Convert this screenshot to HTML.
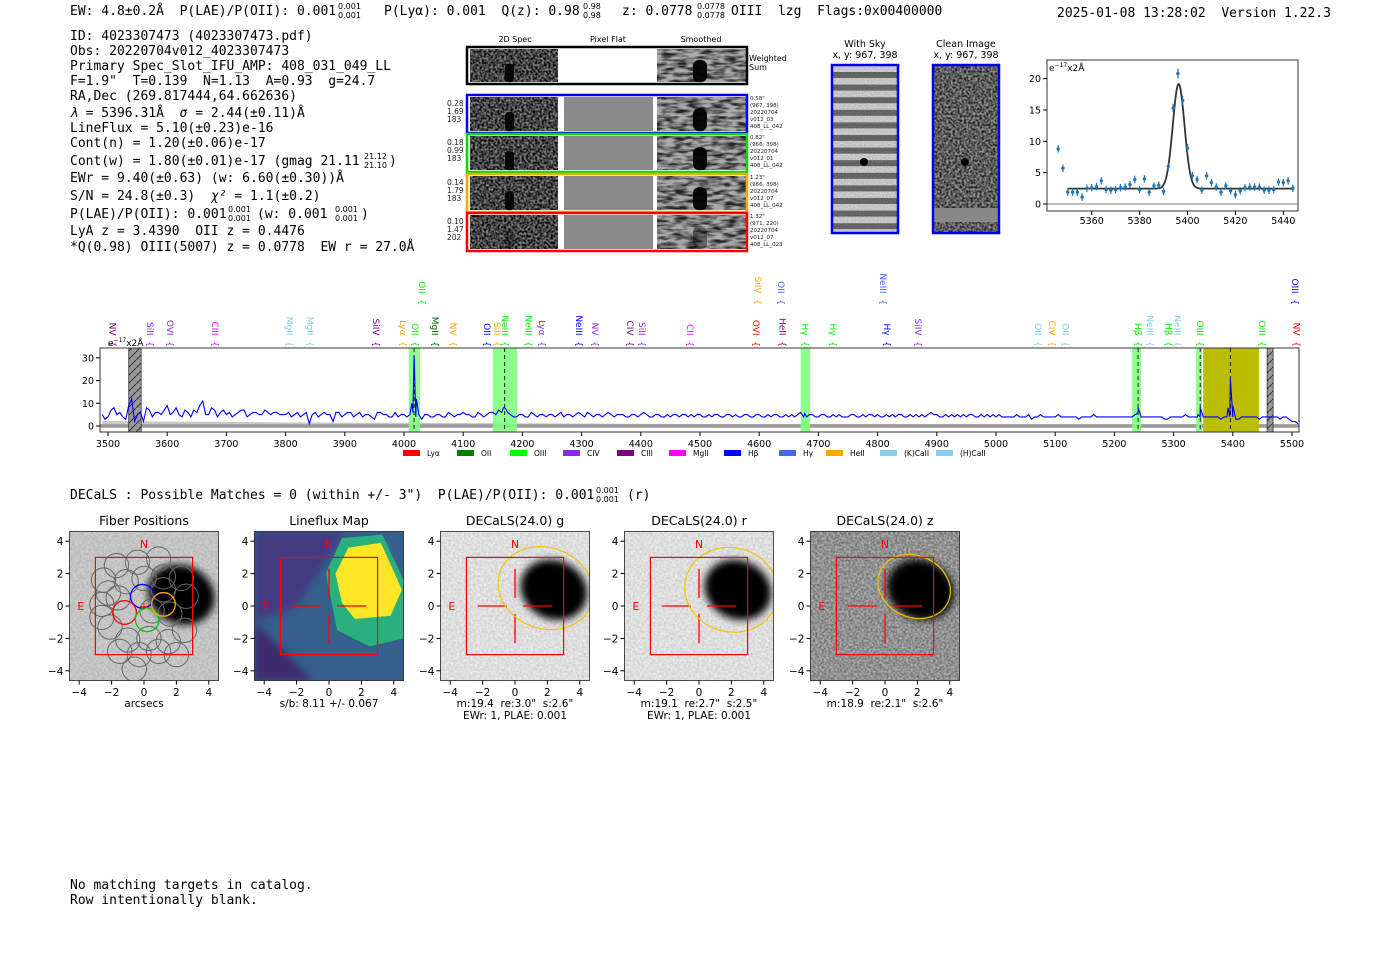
<!DOCTYPE html>
<html><head><meta charset="utf-8"><style>
html,body{margin:0;padding:0;background:#fff;}
svg{display:block;}
svg text{white-space:pre;}
.mono{font-family:"DejaVu Sans Mono","Liberation Mono",monospace;font-size:13px;fill:#000;}
.sm{font-family:"DejaVu Sans","Liberation Sans",sans-serif;}
</style></head><body>
<svg id="root" width="1400" height="953" viewBox="0 0 1400 953" xmlns="http://www.w3.org/2000/svg" xml:space="preserve">
<defs>
<filter id="noise" x="0" y="0" width="100%" height="100%"><feTurbulence type="fractalNoise" baseFrequency="0.45" numOctaves="1" seed="3"/><feColorMatrix type="matrix" values="0 0 0 0 0  0 0 0 0 0  0 0 0 0 0  0 0 0 -2.2 1.6"/></filter>
<filter id="noiseSoft" x="0" y="0" width="100%" height="100%"><feTurbulence type="fractalNoise" baseFrequency="0.08 0.3" numOctaves="2" seed="7"/><feColorMatrix type="matrix" values="0 0 0 0 0  0 0 0 0 0  0 0 0 0 0  0 0 0 -2.5 1.6"/></filter>
<filter id="noiseFine" x="0" y="0" width="100%" height="100%"><feTurbulence type="fractalNoise" baseFrequency="0.9" numOctaves="1" seed="5"/><feColorMatrix type="matrix" values="0 0 0 0 0  0 0 0 0 0  0 0 0 0 0  0 0 0 -1 0.8"/></filter>
<filter id="blur3"><feGaussianBlur stdDeviation="4"/></filter>
<pattern id="hatch" width="8" height="8" patternUnits="userSpaceOnUse"><rect width="8" height="8" fill="#999"/><path d="M0,8 L8,0" stroke="#333" stroke-width="1"/></pattern>
</defs>

<g>
<text class="mono" x="70" y="15">EW: 4.8±0.2Å  P(LAE)/P(OII): 0.001</text>
<text class="sm" x="338" y="9" font-size="8">0.001</text>
<text class="sm" x="338" y="18" font-size="8">0.001</text>
<text class="mono" x="384" y="15">P(Lyα): 0.001  Q(z): 0.98</text>
<text class="sm" x="583" y="9" font-size="8">0.98</text>
<text class="sm" x="583" y="18" font-size="8">0.98</text>
<text class="mono" x="622" y="15">z: 0.0778</text>
<text class="sm" x="697" y="9" font-size="8">0.0778</text>
<text class="sm" x="697" y="18" font-size="8">0.0778</text>
<text class="mono" x="731" y="15">OIII  lzg  Flags:0x00400000</text>
<text class="mono" x="1057" y="17">2025-01-08 13:28:02  Version 1.22.3</text>
</g>

<g>
<text class="mono" x="70" y="40">ID: 4023307473 (4023307473.pdf)</text>
<text class="mono" x="70" y="55">Obs: 20220704v012_4023307473</text>
<text class="mono" x="70" y="70">Primary Spec_Slot_IFU_AMP: 408_031_049_LL</text>
<text class="mono" x="70" y="85">F=1.9"  T=0.139  N=1.13  A=0.93  g=24.7</text>
<text class="mono" x="70" y="100">RA,Dec (269.817444,64.662636)</text>
<text class="mono" x="70" y="117"><tspan font-style="italic">λ</tspan> = 5396.31Å  <tspan font-style="italic">σ</tspan> = 2.44(±0.11)Å</text>
<text class="mono" x="70" y="132">LineFlux = 5.10(±0.23)e-16</text>
<text class="mono" x="70" y="147">Cont(n) = 1.20(±0.06)e-17</text>
<text class="mono" x="70" y="165">Cont(w) = 1.80(±0.01)e-17 (gmag 21.11</text>
<text class="sm" x="364" y="159" font-size="8">21.12</text>
<text class="sm" x="364" y="168" font-size="8">21.10</text>
<text class="mono" x="389" y="165">)</text>
<text class="mono" x="70" y="182">EWr = 9.40(±0.63) (w: 6.60(±0.30))Å</text>
<text class="mono" x="70" y="200">S/N = 24.8(±0.3)  <tspan font-style="italic">χ²</tspan> = 1.1(±0.2)</text>
<text class="mono" x="70" y="218">P(LAE)/P(OII): 0.001</text>
<text class="sm" x="228" y="212" font-size="8">0.001</text>
<text class="sm" x="228" y="221" font-size="8">0.001</text>
<text class="mono" x="257" y="218">(w: 0.001</text>
<text class="sm" x="335" y="212" font-size="8">0.001</text>
<text class="sm" x="335" y="221" font-size="8">0.001</text>
<text class="mono" x="361" y="218">)</text>
<text class="mono" x="70" y="235">LyA z = 3.4390  OII z = 0.4476</text>
<text class="mono" x="70" y="251">*Q(0.98) OIII(5007) z = 0.0778  EW r = 27.0Å</text>
</g>

<g id="cutouts" class="sm">
<text x="515" y="42" font-size="8" text-anchor="middle">2D Spec</text>
<text x="608" y="42" font-size="8" text-anchor="middle">Pixel Flat</text>
<text x="701" y="42" font-size="8" text-anchor="middle">Smoothed</text>
<text x="749" y="61" font-size="8">Weighted</text>
<text x="749" y="70" font-size="8">Sum</text>
</g>

<g class="sm">
<text x="865" y="47" font-size="9.5" text-anchor="middle">With Sky</text>
<text x="865" y="58" font-size="9.5" text-anchor="middle">x, y: 967, 398</text>
<rect x="831" y="64" width="68" height="170" fill="#ddd"/>
<g id="skystripes"></g>
<rect x="831" y="64" width="68" height="170" fill="#000" filter="url(#noiseFine)" opacity="0.35"/>
<circle cx="864" cy="162" r="4" fill="#000"/>
<rect x="832" y="65" width="66" height="168" fill="none" stroke="#0000ee" stroke-width="2.5"/>
<text x="966" y="47" font-size="9.5" text-anchor="middle">Clean Image</text>
<text x="966" y="58" font-size="9.5" text-anchor="middle">x, y: 967, 398</text>
<rect x="932" y="64" width="68" height="170" fill="#999"/>
<rect x="932" y="64" width="68" height="170" fill="#000" filter="url(#noise)" opacity="0.8"/>
<rect x="932" y="208" width="68" height="14" fill="#888"/>
<circle cx="965" cy="162" r="4" fill="#000"/>
<rect x="933" y="65" width="66" height="168" fill="none" stroke="#0000ee" stroke-width="2.5"/>
</g>

<g id="zoomplot" class="sm">
<rect x="1047" y="60" width="251" height="151" fill="#fff" stroke="#333"/>
<text x="1049" y="71" font-size="9">e<tspan dy="-4" font-size="6">−17</tspan><tspan dy="4">x2Å</tspan></text>
</g>

<g id="mainspec" class="sm"></g>

<text class="mono" x="70" y="499">DECaLS : Possible Matches = 0 (within +/- 3")  P(LAE)/P(OII): 0.001</text>
<text class="sm" x="596" y="493" font-size="8">0.001</text>
<text class="sm" x="596" y="502" font-size="8">0.001</text>
<text class="mono" x="627" y="499">(r)</text>
<g id="panels" class="sm"></g>
<text class="mono" x="70" y="889">No matching targets in catalog.</text>
<text class="mono" x="70" y="904">Row intentionally blank.</text>
</svg>

<script>
// ---------------- data ----------------
const fitW = [5346,5348,5350,5352,5354,5356,5358,5360,5362,5364,5366,5368,5370,5372,5374,5376,5378,5380,5382,5384,5386,5388,5390,5392,5394,5396,5398,5400,5402,5404,5406,5408,5410,5412,5414,5416,5418,5420,5422,5424,5426,5428,5430,5432,5434,5436,5438,5440,5442,5444];
const fitF = [8.8,5.7,1.9,1.9,1.9,1.1,2.5,2.6,2.8,3.7,2.3,2.2,2.3,2.6,2.7,3.1,3.9,2.3,4.0,1.9,2.9,3.0,2.0,6.0,15.3,20.8,16.5,8.9,4.5,3.9,2.2,4.5,3.4,2.7,1.9,2.9,2.1,1.5,2.1,2.6,2.7,2.7,2.7,2.2,2.2,2.3,3.5,3.4,3.7,2.5];
const fitErr = [0.6,0.6,0.6,0.6,0.6,0.6,0.6,0.6,0.6,0.6,0.6,0.6,0.6,0.6,0.6,0.6,0.6,0.6,0.6,0.6,0.6,0.6,0.6,0.6,0.7,0.8,0.7,0.7,0.6,0.6,0.6,0.6,0.6,0.6,0.6,0.6,0.6,0.6,0.6,0.6,0.6,0.6,0.6,0.6,0.6,0.6,0.6,0.6,0.6,0.6];
const fitCont = 2.45, fitAmp = 16.7, fitMu = 5396.31, fitSigma = 2.44;
const zoomXTicks = [5360,5380,5400,5420,5440];
const zoomYTicks = [0,5,10,15,20];

const specStart = 3490, specStep = 10;
const specF = [5,4,8,6,3,12,5,2,7,6,5,
 9,6,5,7,4,6,11,5,7,6,
 5,4,6,7,5,6,5,6,6,5,
 5,4,6,5,1,6,5,5,2,6,
 5,6,5,4,5,3,6,5,4,4,
 5,5,4,3,5,4,5,4,5,5,
 6,5,4,5,5,6,7,8,5,4,
 5,4,5,5,4,5,5,4,5,5,
 5,6,4,5,5,5,5,5,4,5,
 5,5,4,5,4,4,5,5,4,4,
 5,4,4,5,4,5,5,4,5,4,
 5,4,4,5,4,4,4,6,4,5,
 4,5,4,4,4,4,5,4,4,5,
 5,4,4,4,5,4,4,4,4,6,
 5,4,4,4,4,4,5,4,4,4,
 4,4,4,4,4,4,3,4,4,4,
 4,4,4,4,3,4,4,4,4,4,
 4,4,4,4,6,4,4,4,4,3,
 4,4,5,4,4,4,4,4,3,4,
 4,3,4,4,4,4,4,4,3,4,
 2,1];
const wigF = [3,7,5,4,9,2,6,8,4,6,7,
 5,8,4,6,7,9,5,8,4,7,
 6,5,7,4,6,5,7,5,6,5,
 6,5,4,6,5,4,6,5,6,4,
 6,4,6,5,4,6,5,4,6,5,
 4,6,5,5,4,5,4,6,4,5,
 5,4,6,4,6,5,6,6,4,5,
 4,6,4,5,5,4,6,5,4,6,
 4,5,5,4,6,4,5,4,5,4,
 6,4,5,4,5,5,4,5,5,5,
 4,5,5,4,5,4,4,5,4,5,
 4,5,5,4,5,5,5,4,5,4,
 5,4,5,5,4,5,4,5,5,4,
 4,5,5,5,4,5,5,5,5,5,
 4,5,5,5,5,5,4,5,5,5,
 5,4,4,5,4,5,4,5,4,4,
 5,4,4,4,4,4,5,4,4,4,
 4,4,4,5,4,4,4,4,3,4,
 4,4,4,4,4,4,4,4,4,4,
 3,4,4,4,3,4,4,4,4,3,
 2];
const peakW = [4013,4017,4021,4168,4172,4677,5236,5240,5244,5341,5345,5349,5392,5396,5400];
const peakF = [10,31,12,8,7.5,5.5,5,8,5,5,8,5,8,21,9];
const errF = [2.2,2.0,1.8,1.6,1.5,1.4,1.3,1.2,1.1,1.0,0.9,0.8,0.8,0.8,0.7,0.7,0.7,0.7,0.7,0.7,0.7];
const specXTicks = [3500,3600,3700,3800,3900,4000,4100,4200,4300,4400,4500,4600,4700,4800,4900,5000,5100,5200,5300,5400,5500];
const specYTicks = [0,10,20,30];

const lineW = [3508,3571,3605,3681,3807,3841,3953,3998,4019,4052,4083,4140,4157,4171,4210,4233,4296,4323,4382,4402,4483,4595,4639,4677,4725,4816,4868,5071,5095,5117,5240,5260,5291,5307,5345,5449,5508];
const lineName = ["NV","SiII","OVI","CIII","MgII","MgII","SiIV","Lyα","OII","MgII","NV","OII","SiII","NeIII","NeIII","Lyα","NeIII","NV","CIV","SiII","CII","OVI","HeII","Hγ","Hγ","Hγ","SiIV","OII","CIV","OII","Hβ","NeIII","Hβ","NeIII","OIII","OIII","NV"];
const lineColor = ["#800080","#8a2be2","#8a2be2","#ff00ff","#87ceeb","#87ceeb","#800080","#ffa500","#00ee00","#006400","#ffa500","#0000ff","#ffa500","#00ee00","#00ee00","#8a2be2","#0000ff","#8a2be2","#800080","#8a2be2","#ff00ff","#ff0000","#800080","#00ee00","#00ee00","#0000ff","#8a2be2","#87ceeb","#ffa500","#87ceeb","#00ee00","#87ceeb","#00ee00","#87ceeb","#00ee00","#00ee00","#ff0000"];
const upW = [4030,4598,4637,4809,5505];
const upName = ["OII","SiIV","OII","NeIII","OIII"];
const upColor = ["#00ee00","#ffa500","#4169e1","#4169e1","#0000ff"];
const bandLo = [4008,4150,4670,5230,5338,5350];
const bandHi = [4027,4191,4686,5245,5348,5444];
const bandColor = ["#7fff7f","#7fff7f","#7fff7f","#7fff7f","#7fff7f","#bcbc00"];
const dashW = [4017,4170,5240,5345,5396];
const legendName = ["Lyα","OII","OIII","CIV","CIII","MgII","Hβ","Hγ","HeII","(K)CaII","(H)CaII"];
const legendColor = ["#ff0000","#008000","#00ff00","#8a2be2","#800080","#ff00ff","#0000ff","#4169e1","#ffa500","#87ceeb","#87ceeb"];

const panelTitle = ["Fiber Positions","Lineflux Map","DECaLS(24.0) g","DECaLS(24.0) r","DECaLS(24.0) z"];
const panelSub1 = ["arcsecs","s/b: 8.11 +/- 0.067","m:19.4  re:3.0\"  s:2.6\"","m:19.1  re:2.7\"  s:2.5\"","m:18.9  re:2.1\"  s:2.6\""];
const panelSub2 = ["","","EWr: 1, PLAE: 0.001","EWr: 1, PLAE: 0.001",""];
const panelTicks = [-4,-2,0,2,4];

// ---------------- helpers ----------------
const NS = "http://www.w3.org/2000/svg";
function mk(parent, tag, attrs, text){
  const e = document.createElementNS(NS, tag);
  for (const k in attrs) e.setAttribute(k, attrs[k]);
  if (text !== undefined) e.textContent = text;
  parent.appendChild(e);
  return e;
}

// ---------------- cutouts ----------------
const cut = document.getElementById('cutouts');
const rowsY = [95,134,174,213];
const rowsC = ["#0000ee","#00dd00","#ffa500","#ff0000"];
const rowNums = [["0.28","1.69","183"],["0.18","0.99","183"],["0.14","1.79","183"],["0.10","1.47","202"]];
const rowInfo = [["0.58\"","(967, 398)","20220704","v012_03","408_LL_042"],["0.82\"","(966, 398)","20220704","v012_01","408_LL_042"],["1.23\"","(966, 398)","20220704","v012_07","408_LL_042"],["1.32\"","(971, 220)","20220704","v012_07","408_LL_023"]];
function cutRow(y, h, color, flat, idx){
  let e;
  e = mk(cut,'rect',{x:470,y:y+2,width:88,height:h-4,fill:'#888'});
  
  
  e = mk(cut,'rect',{x:470,y:y+2,width:88,height:h-4,fill:'#000',filter:'url(#noise)'});
  
  
  e = mk(cut,'rect',{x:564,y:y+2,width:89,height:h-4,fill:flat?'#8a8a8a':'#fff'});
  
  
  e = mk(cut,'rect',{x:657,y:y+2,width:89,height:h-4,fill:'#aaa'});
  
  
  e = mk(cut,'rect',{x:657,y:y+2,width:89,height:h-4,fill:'#000',filter:'url(#noiseSoft)',opacity:0.8});
  
  
  e = mk(cut,'rect',{x:693,y:y+h*0.35,width:14,height:h*0.6,rx:6,fill:'#000',opacity:idx===3?0.4:0.95});
  
  
  e = mk(cut,'rect',{x:505,y:y+h*0.45,width:9,height:h*0.5,rx:3,fill:'#000',opacity:idx===3?0.3:0.9});
  
  
  e = mk(cut,'rect',{x:467,y:y,width:280,height:h,fill:'none',stroke:color,'stroke-width':2.5});
  
  
}
cutRow(47,37,'#000',false,-1);
for (let i=0;i<4;i++){
  cutRow(rowsY[i],38,rowsC[i],true,i);
  for (let j=0;j<3;j++){
    const t = mk(cut,'text',{x:447,y:rowsY[i]+11+j*8,'font-size':7.5,fill:'#222'},rowNums[i][j]);
    
    
  }
  for (let j=0;j<5;j++){
    const t = mk(cut,'text',{x:750,y:rowsY[i]+5+j*7,'font-size':5.5,fill:'#222'},rowInfo[i][j]);
    
    
  }
}

const ss = document.getElementById('skystripes');
for (let k=0;k<13;k++){
  const s = mk(ss,'rect',{x:831,y:72+k*12.6,width:68,height:6,fill:'#555',opacity:0.8});
  
  
}

// ---------------- zoom plot ----------------
const zp = document.getElementById('zoomplot');
const zx = w => 1091.7 + (w-5360)*2.395;
const zy = v => 204 - v*6.27;
zoomXTicks.forEach(t=>{
  let e = mk(zp,'line',{x1:zx(t),x2:zx(t),y1:211,y2:215,stroke:'#000'});
  
  
  e = mk(zp,'text',{x:zx(t),y:224,'font-size':9.5,'text-anchor':'middle'},String(t));
  
  
});
zoomYTicks.forEach(t=>{
  let e = mk(zp,'line',{x1:1043,x2:1047,y1:zy(t),y2:zy(t),stroke:'#000'});
  
  
  e = mk(zp,'text',{x:1041,y:zy(t)+3.5,'font-size':9.5,'text-anchor':'end'},String(t));
  
  
});
let zl = mk(zp,'line',{x1:1047,x2:1298,y1:zy(0),y2:zy(0),stroke:'#555','stroke-width':0.8});


let gp = [];
for (let w=5350; w<=5444; w+=0.25){
  const v = fitCont + fitAmp*Math.exp(-0.5*((w-fitMu)/fitSigma)**2);
  gp.push(zx(w).toFixed(1)+','+zy(v).toFixed(1));
}
zl = mk(zp,'polyline',{points:gp.join(' '),fill:'none',stroke:'#333','stroke-width':1.8});


fitW.forEach((w,i)=>{
  let e = mk(zp,'line',{x1:zx(w),x2:zx(w),y1:zy(fitF[i]-fitErr[i]),y2:zy(fitF[i]+fitErr[i]),stroke:'#1f77b4','stroke-width':1.2});
  
  
  e = mk(zp,'circle',{cx:zx(w),cy:zy(fitF[i]),r:1.7,fill:'#1f77b4'});
  
  
});

// ---------------- main spectrum ----------------
const ms = document.getElementById('mainspec');
const sx = w => 108 + (w-3500)*0.592;
const sy = v => 426 - v*2.27;
let e0 = mk(ms,'rect',{x:100,y:348,width:1199,height:84,fill:'#fff'});


let ep = [];
errF.forEach((v,i)=>{ep.push(sx(3490+i*100).toFixed(1)+','+sy(v).toFixed(1));});
for (let i=errF.length-1;i>=0;i--) ep.push(sx(3490+i*100).toFixed(1)+','+sy(-0.5).toFixed(1));
e0 = mk(ms,'polygon',{points:ep.join(' '),fill:'#c8c8c8'});


e0 = mk(ms,'rect',{x:100,y:sy(0.8),width:1199,height:3.6,fill:'#999'});


bandLo.forEach((lo,i)=>{
  const b = mk(ms,'rect',{x:sx(lo),y:348,width:sx(bandHi[i])-sx(lo),height:84,fill:bandColor[i],opacity:i===5?1:0.9});
  
  
});
[[3535,3556],[5458,5468]].forEach(m=>{
  const b = mk(ms,'rect',{x:sx(m[0]),y:348,width:sx(m[1])-sx(m[0]),height:84,fill:'url(#hatch)',stroke:'#333','stroke-width':0.8});
  
  
});
dashW.forEach(w=>{
  const d = mk(ms,'line',{x1:sx(w),x2:sx(w),y1:348,y2:432,stroke:'#222','stroke-dasharray':'4,3','stroke-width':1});
  
  
});
let pts = specF.map((v,i)=>[specStart+i*specStep, v]);
wigF.forEach((v,i)=>pts.push([specStart+5+i*specStep, v]));
peakW.forEach((w,i)=>pts.push([w,peakF[i]]));
pts.sort((a,b)=>a[0]-b[0]);
let pl = [];
for (let i=0;i<pts.length;i++){
  pl.push(sx(pts[i][0]).toFixed(1)+','+sy(pts[i][1]).toFixed(1));
}
e0 = mk(ms,'polyline',{points:pl.join(' '),fill:'none',stroke:'#0000ff','stroke-width':1.1});


e0 = mk(ms,'rect',{x:100,y:348,width:1199,height:84,fill:'none',stroke:'#333','stroke-width':1});


e0 = mk(ms,'text',{x:108,y:346,'font-size':9});


mk(e0,'tspan',{},'e');
mk(e0,'tspan',{dy:-4,'font-size':6},'−17');
mk(e0,'tspan',{dy:4},'x2Å');
specXTicks.forEach(t=>{
  let e = mk(ms,'line',{x1:sx(t),x2:sx(t),y1:432,y2:436,stroke:'#000'});
  
  
  e = mk(ms,'text',{x:sx(t),y:447,'font-size':9.5,'text-anchor':'middle'},String(t));
  
  
});
specYTicks.forEach(t=>{
  let e = mk(ms,'line',{x1:96,x2:100,y1:sy(t),y2:sy(t),stroke:'#000'});
  
  
  e = mk(ms,'text',{x:94,y:sy(t)+3.5,'font-size':9.5,'text-anchor':'end'},String(t));
  
  
});
function lineLabel(w,name,color,yEnd){
  const x = sx(w);
  const t = mk(ms,'text',{x:0,y:0,'font-size':9,fill:color,'text-anchor':'end',transform:`translate(${x-3},${yEnd}) rotate(90)`},name+'  {');
  
  
}
lineW.forEach((w,i)=>lineLabel(w,lineName[i],lineColor[i],347));
upW.forEach((w,i)=>lineLabel(w,upName[i],upColor[i],305));
const legX = [403,457,510,563,617,669,724,779,826,880,936];
legendName.forEach((n,i)=>{
  let e = mk(ms,'rect',{x:legX[i],y:450,width:17,height:6,fill:legendColor[i]});
  
  
  e = mk(ms,'text',{x:legX[i]+24,y:456,'font-size':7.5},n);
  
  
});

// ---------------- imaging panels ----------------
const pg = document.getElementById('panels');
const pcx = [144,329,515,699,885];
const S = 16.2, PCY = 606;
const fibX = [-2.5,-1.7,-0.4,0.9,-2.2,-1.1,0.0,1.2,2.3,-2.6,-1.6,0.5,1.6,2.6,-2.1,-1.0,0.3,1.5,2.5,-1.5,-0.3,0.9,2.0,-0.6,1.2,-2.6];
const fibY = [1.6,2.5,2.7,2.9,0.8,1.5,1.7,1.8,1.7,0.1,0.5,-0.3,-0.5,0.6,-1.3,-2.1,-2.0,-2.2,-1.5,-2.8,-3.0,-2.8,-3.0,-3.9,1.0,-0.7];
const selX = [-0.1,-1.2,0.2,1.2], selY = [0.6,-0.4,-0.85,0.1], selC = ['#0000ff','#ff0000','#00cc00','#ffa500'];
const ellX = [1.9,2.0,1.8], ellY = [1.1,1.0,1.2], ellRx = [3.0,2.9,2.3], ellRy = [2.5,2.6,1.9], ellRot = [20,15,25];
for (let p=0;p<5;p++){
  const cx = pcx[p];
  const X = a => cx + a*S, Y = b => PCY - b*S;
  const x0 = X(-4.6), y0 = Y(4.6), W = 9.2*S;
  const clipId = 'clip'+p;
  const cp = mk(pg,'clipPath',{id:clipId});
  mk(cp,'rect',{x:x0,y:y0,width:W,height:W});
  const g = mk(pg,'g',{'clip-path':`url(#${clipId})`});
  
  
  let e;
  if (p===1){
    e = mk(g,'rect',{x:x0,y:y0,width:W,height:W,fill:'#35608d'});
    
    
    e = mk(g,'polygon',{points:`${X(-4.6)},${Y(-1)} ${X(-1)},${Y(-4.6)} ${X(-4.6)},${Y(-4.6)}`,fill:'#3e2a6e',filter:'url(#blur3)'});
    
    
    e = mk(g,'polygon',{points:`${X(-4.6)},${Y(4.6)} ${X(1)},${Y(4.6)} ${X(-2)},${Y(0)} ${X(-4.6)},${Y(-1)}`,fill:'#423a80',filter:'url(#blur3)'});
    
    
    e = mk(g,'polygon',{points:`${X(-0.2)},${Y(2.0)} ${X(0.8)},${Y(4.2)} ${X(3.3)},${Y(4.4)} ${X(4.8)},${Y(1.2)} ${X(4.6)},${Y(-2)} ${X(2.5)},${Y(-2.5)} ${X(0.5)},${Y(-1.5)}`,fill:'#2ab07f'});
    
    
    e = mk(g,'polygon',{points:`${X(0.4)},${Y(2.0)} ${X(1.2)},${Y(3.6)} ${X(3.2)},${Y(3.9)} ${X(4.5)},${Y(1.0)} ${X(3.8)},${Y(-0.6)} ${X(1.6)},${Y(-0.8)} ${X(0.8)},${Y(0.2)}`,fill:'#fde725'});
    
    
  } else {
    const bg = p===4 ? '#b0b0b0' : (p===0 ? '#cfcfcf' : '#eaeaea');
    e = mk(g,'rect',{x:x0,y:y0,width:W,height:W,fill:bg});
    
    
    e = mk(g,'rect',{x:x0,y:y0,width:W,height:W,fill:'#000',filter:'url(#noise)',opacity:p===4?0.35:0.1});
    
    
    const bx = p===0?2.3:(p===4?2.2:2.4), by = p===0?0.7:1.0;
    e = mk(g,'ellipse',{cx:X(bx),cy:Y(by),rx:2.1*S,ry:1.8*S,fill:'#000',filter:'url(#blur3)',transform:`rotate(25 ${X(bx)} ${Y(by)})`});
    
    
  }
  if (p===0){
    fibX.forEach((fx,i)=>{
      const c = mk(g,'circle',{cx:X(fx),cy:Y(fibY[i]),r:0.75*S,fill:'none',stroke:'#666','stroke-width':1});
      
      
    });
    selX.forEach((fx,i)=>{
      const c = mk(g,'circle',{cx:X(fx),cy:Y(selY[i]),r:0.73*S,fill:'none',stroke:selC[i],'stroke-width':1.3});
      
      
    });
    e = mk(g,'text',{x:X(0),y:Y(0)+4,'font-size':11,fill:'#f00','text-anchor':'middle'},'+');
    
    
  } else {
    e = mk(g,'line',{x1:X(-2.3),x2:X(-0.5),y1:Y(0),y2:Y(0),stroke:'#f00','stroke-width':1.3});
    
    
    e = mk(g,'line',{x1:X(0.5),x2:X(2.3),y1:Y(0),y2:Y(0),stroke:'#f00','stroke-width':1.3});
    
    
    e = mk(g,'line',{x1:X(0),x2:X(0),y1:Y(2.3),y2:Y(0.5),stroke:'#f00','stroke-width':1.3});
    
    
    e = mk(g,'line',{x1:X(0),x2:X(0),y1:Y(-0.5),y2:Y(-2.3),stroke:'#f00','stroke-width':1.3});
    
    
  }
  if (p>=2){
    const k = p-2;
    e = mk(g,'ellipse',{cx:X(ellX[k]),cy:Y(ellY[k]),rx:ellRx[k]*S,ry:ellRy[k]*S,fill:'none',stroke:'#f2c500','stroke-width':1.2,transform:`rotate(${ellRot[k]} ${X(ellX[k])} ${Y(ellY[k])})`});
    
    
  }
  e = mk(g,'rect',{x:X(-3),y:Y(3),width:6*S,height:6*S,fill:'none',stroke:'#f00','stroke-width':1.2});
  
  
  e = mk(g,'text',{x:X(0),y:Y(3.9)+5,'font-size':11,fill:'#f00','text-anchor':'middle'},'N');
  
  
  e = mk(g,'text',{x:X(-3.9),y:Y(0)+4,'font-size':11,fill:'#f00','text-anchor':'middle'},'E');
  
  
  e = mk(pg,'rect',{x:x0,y:y0,width:W,height:W,fill:'none',stroke:'#222','stroke-width':0.8});
  
  
  e = mk(pg,'text',{x:cx,y:525,'font-size':12.5,'text-anchor':'middle'},panelTitle[p]);
  
  
  panelTicks.forEach(t=>{
    let q = mk(pg,'line',{x1:X(t),x2:X(t),y1:y0+W,y2:y0+W+4,stroke:'#000'});
    
    
    q = mk(pg,'text',{x:X(t),y:696,'font-size':10.5,'text-anchor':'middle'},t<0?'−'+(-t):String(t));
    
    
    q = mk(pg,'line',{x1:x0-4,x2:x0,y1:Y(t),y2:Y(t),stroke:'#000'});
    
    
    q = mk(pg,'text',{x:x0-6,y:Y(t)+4,'font-size':10.5,'text-anchor':'end'},t<0?'−'+(-t):String(t));
    
    
  });
  e = mk(pg,'text',{x:cx,y:707,'font-size':10.5,'text-anchor':'middle'},panelSub1[p]);
  
  
  if (panelSub2[p]){
    e = mk(pg,'text',{x:cx,y:719,'font-size':10.5,'text-anchor':'middle'},panelSub2[p]);
    
    
  }
}
</script>
</body></html>
